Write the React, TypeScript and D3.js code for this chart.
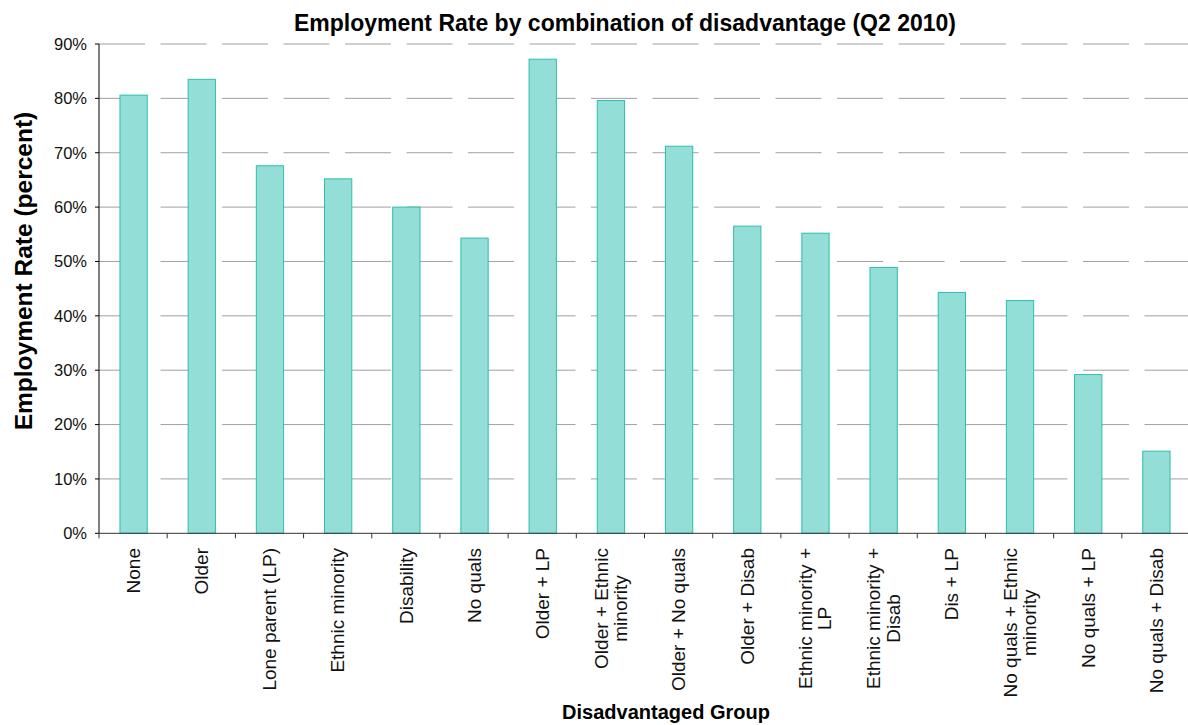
import React, { useEffect, useRef } from "react";
import * as d3 from "d3";

const categories: string[] = [
  "None",
  "Older",
  "Lone parent (LP)",
  "Ethnic minority",
  "Disability",
  "No quals",
  "Older + LP",
  "Older + Ethnic\nminority",
  "Older + No quals",
  "Older + Disab",
  "Ethnic minority +\nLP",
  "Ethnic minority +\nDisab",
  "Dis + LP",
  "No quals + Ethnic\nminority",
  "No quals + LP",
  "No quals + Disab",
];

const rates: number[] = [
  80.6, 83.5, 67.6, 65.2, 60.0, 54.3, 87.2, 79.6, 71.2, 56.5, 55.2, 48.9, 44.3, 42.8, 29.2, 15.1,
];

const yTicks: number[] = [0, 10, 20, 30, 40, 50, 60, 70, 80, 90];

const title = "Employment Rate by combination of disadvantage (Q2 2010)";
const xTitle = "Disadvantaged Group";
const yTitle = "Employment Rate (percent)";

const W = 1188;
const H = 725;
const FONT = "'Liberation Sans', Arial, sans-serif";

export default function App() {
  const ref = useRef<SVGSVGElement | null>(null);

  useEffect(() => {
    const svg = d3.select(ref.current);
    svg.selectAll("*").remove();

    const left = 99;
    const right = 1190;
    const top = 44;
    const bottom = 533.3;

    const x = d3.scaleBand<string>().domain(categories).range([left, right]).paddingInner(0.6).paddingOuter(0.3);
    const xb = d3.scaleBand<string>().domain(categories).range([left, right]);
    const y = d3.scaleLinear().domain([0, 90]).range([bottom, top]);

    // gridlines
    svg
      .append("g")
      .selectAll("line")
      .data(yTicks.filter((t) => t > 0))
      .join("line")
      .attr("x1", left)
      .attr("x2", right)
      .attr("y1", (d) => y(d))
      .attr("y2", (d) => y(d))
      .attr("stroke", "#a0a0a0")
      .attr("stroke-width", 1)
      .attr("stroke-dasharray", "46 15.5");

    // bars
    svg
      .append("g")
      .selectAll("rect")
      .data(rates)
      .join("rect")
      .attr("x", (_, i) => (x(categories[i]) as number) + 0.5)
      .attr("y", (d) => y(d))
      .attr("width", x.bandwidth())
      .attr("height", (d) => bottom - y(d))
      .attr("fill", "#93ded7")
      .attr("stroke", "#2cbfae")
      .attr("stroke-width", 1);

    // y axis
    const ya = svg.append("g");
    ya.append("line")
      .attr("x1", left)
      .attr("x2", left)
      .attr("y1", top)
      .attr("y2", bottom)
      .attr("stroke", "#000");
    ya.selectAll("line.t")
      .data(yTicks)
      .join("line")
      .attr("class", "t")
      .attr("x1", left - 4)
      .attr("x2", left)
      .attr("y1", (d) => y(d))
      .attr("y2", (d) => y(d))
      .attr("stroke", "#000");
    ya.selectAll("text")
      .data(yTicks)
      .join("text")
      .attr("x", 87)
      .attr("y", (d) => y(d))
      .attr("dy", "0.35em")
      .attr("text-anchor", "end")
      .attr("font-family", FONT)
      .attr("font-size", 16.5)
      .attr("fill", "#111")
      .text((d) => d3.format("d")(d) + "%");

    // x axis
    const xa = svg.append("g");
    xa.append("line")
      .attr("x1", left)
      .attr("x2", right)
      .attr("y1", bottom)
      .attr("y2", bottom)
      .attr("stroke", "#333");
    xa.selectAll("line.t")
      .data(categories)
      .join("line")
      .attr("class", "t")
      .attr("x1", (d) => xb(d) as number)
      .attr("x2", (d) => xb(d) as number)
      .attr("y1", bottom)
      .attr("y2", bottom + 5)
      .attr("stroke", "#333");

    const labelTop = 548;
    const lineGap = 19.4;
    categories.forEach((c) => {
      const cx = (xb(c) as number) + xb.bandwidth() / 2;
      const lines = c.split("\n");
      const g = xa.append("g");
      const texts = lines.map((ln) =>
        g
          .append("text")
          .attr("font-family", FONT)
          .attr("font-size", 19)
          .attr("fill", "#111")
          .attr("text-anchor", "middle")
          .text(ln)
      );
      const lens = texts.map((t) => (t.node() as SVGTextElement).getComputedTextLength());
      const maxLen = Math.max(...lens);
      const cy = labelTop + maxLen / 2;
      texts.forEach((t, j) => {
        const off = (j - (lines.length - 1) / 2) * lineGap;
        const tx = cx + off + 6.8;
        t.attr("transform", `translate(${tx},${cy}) rotate(-90)`);
      });
    });

    // titles
    svg
      .append("text")
      .attr("x", 625)
      .attr("y", 31)
      .attr("text-anchor", "middle")
      .attr("font-family", FONT)
      .attr("font-weight", "bold")
      .attr("font-size", 23)
      .attr("fill", "#000")
      .text(title);

    svg
      .append("text")
      .attr("x", 666)
      .attr("y", 719)
      .attr("text-anchor", "middle")
      .attr("font-family", FONT)
      .attr("font-weight", "bold")
      .attr("font-size", 20)
      .attr("fill", "#000")
      .text(xTitle);

    svg
      .append("text")
      .attr("transform", `translate(32,271) rotate(-90)`)
      .attr("text-anchor", "middle")
      .attr("font-family", FONT)
      .attr("font-weight", "bold")
      .attr("font-size", 24.5)
      .attr("fill", "#000")
      .text(yTitle);
  }, []);

  return (
    <svg
      ref={ref}
      width={W}
      height={H}
      style={{ position: "absolute", left: 0, top: 0, background: "#fff" }}
    />
  );
}
